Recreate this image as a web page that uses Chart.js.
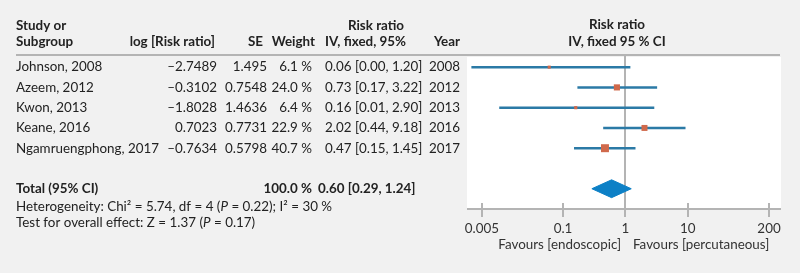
<!DOCTYPE html>
<html>
<head>
<meta charset="utf-8">
<script src="https://cdn.jsdelivr.net/npm/chart.js@4.4.1/dist/chart.umd.min.js"></script>
<style>
  html, body { margin: 0; padding: 0; background: #f1f1f1; }
  #contenedor { position: relative; width: 800px; height: 273px; }
</style>
</head>
<body>
<div id="contenedor"><canvas id="graficoForest"></canvas></div>
<script>
const estudios = ['Johnson, 2008', 'Azeem, 2012', 'Kwon, 2013', 'Keane, 2016', 'Ngamruengphong, 2017'];
const logRiesgo = ['–2.7489', '–0.3102', '–1.8028', '0.7023', '–0.7634'];
const errorEstandar = ['1.495', '0.7548', '1.4636', '0.7731', '0.5798'];
const pesos = [6.1, 24.0, 6.4, 22.9, 40.7];
const razonRiesgo = [0.06, 0.73, 0.16, 2.02, 0.47];
const limiteInf = [0.0034, 0.17, 0.0095, 0.44, 0.15];
const limiteSup = [1.20, 3.22, 2.90, 9.18, 1.45];
const textoRR = ['0.06 [0.00, 1.20]', '0.73 [0.17, 3.22]', '0.16 [0.01, 2.90]', '2.02 [0.44, 9.18]', '0.47 [0.15, 1.45]'];
const anios = ['2008', '2012', '2013', '2016', '2017'];

// Resultado combinado
const totalRR = 0.60;
const totalInf = 0.29;
const totalSup = 1.24;

// Marcas del eje x
const ticksValores = [0.005, 0.1, 1, 10, 200];
const ticksEtiquetas = ['0.005', '0.1', '1', '10', '200'];

const FUENTE = 'Lato';
const TAM = 13.4;
const GRIS = '#b4b4b4';
const TEXTO = '#222222';
const FILA_TOTAL = 6;

// Dibuja texto con partes en cursiva
function dibujarTramos(ctx, tramos, x, y) {
    let posX = x;
    tramos.forEach(([texto, cursiva]) => {
        ctx.font = `${cursiva ? 'italic ' : ''}${TAM}px ${FUENTE}`;
        ctx.fillText(texto, posX, y);
        posX += ctx.measureText(texto).width;
    });
}

const pluginForest = {
    id: 'forest',
    beforeDraw(chart) {
        const { ctx, chartArea: a } = chart;
        ctx.save();
        ctx.fillStyle = '#ffffff';
        ctx.fillRect(a.left - 1, a.top, a.right - a.left + 2, a.bottom - a.top);
        ctx.restore();
    },
    beforeDatasetsDraw(chart) {
        const { ctx, chartArea: a } = chart;
        const x = Math.round(chart.scales.x.getPixelForValue(1));
        ctx.save();
        ctx.strokeStyle = GRIS;
        ctx.lineWidth = 2;
        ctx.beginPath();
        ctx.moveTo(x, 55);
        ctx.lineTo(x, a.bottom);
        ctx.stroke();
        ctx.restore();
    },
    afterDraw(chart) {
        const { ctx, chartArea: a } = chart;
        const escalaX = chart.scales.x;
        const escalaY = chart.scales.y;
        ctx.save();

        // Línea bajo el encabezado
        ctx.strokeStyle = GRIS;
        ctx.lineWidth = 2;
        ctx.beginPath();
        ctx.moveTo(16, 55);
        ctx.lineTo(a.right, 55);
        ctx.stroke();

        // Marcas del eje que cruzan la línea
        ticksValores.forEach(v => {
            const x = Math.round(escalaX.getPixelForValue(v));
            ctx.beginPath();
            ctx.moveTo(x, a.bottom - 6);
            ctx.lineTo(x, a.bottom + 8);
            ctx.stroke();
        });

        ctx.fillStyle = TEXTO;
        ctx.textBaseline = 'middle';

        // Encabezados
        ctx.font = `bold ${TAM}px ${FUENTE}`;
        ctx.textAlign = 'left';
        ctx.fillText('Study or', 16, 26);
        ctx.fillText('Subgroup', 16, 42);
        ctx.fillText('IV, fixed, 95%', 325, 42);
        ctx.textAlign = 'right';
        ctx.fillText('log [Risk ratio]', 215, 42);
        ctx.fillText('SE', 263, 42);
        ctx.fillText('Weight', 315, 42);
        ctx.fillText('Year', 460, 42);
        ctx.textAlign = 'center';
        ctx.fillText('Risk ratio', 376, 26);
        ctx.fillText('Risk ratio', 617, 25);
        ctx.fillText('IV, fixed 95 % CI', 617, 42);

        // Filas de estudios
        ctx.font = `${TAM}px ${FUENTE}`;
        estudios.forEach((nombre, i) => {
            const y = escalaY.getPixelForValue(i);
            ctx.textAlign = 'left';
            ctx.fillText(nombre, 16, y);
            ctx.fillText(textoRR[i], 325, y);
            ctx.textAlign = 'right';
            ctx.fillText(logRiesgo[i], 217, y);
            ctx.fillText(errorEstandar[i], 267, y);
            ctx.fillText(pesos[i].toFixed(1) + ' %', 312, y);
            ctx.fillText(anios[i], 460, y);
        });

        // Fila total
        const yTotal = escalaY.getPixelForValue(FILA_TOTAL);
        ctx.font = `bold ${TAM}px ${FUENTE}`;
        ctx.textAlign = 'left';
        ctx.fillText('Total (95% CI)', 16, yTotal);
        ctx.fillText(`${totalRR.toFixed(2)} [${totalInf.toFixed(2)}, ${totalSup.toFixed(2)}]`, 318, yTotal);
        ctx.textAlign = 'right';
        ctx.fillText('100.0 %', 312, yTotal);

        ctx.textAlign = 'left';
        dibujarTramos(ctx, [['Heterogeneity: Chi² = 5.74, df = 4 (', false], ['P', true], [' = 0.22); I² = 30 %', false]], 16, 207);
        dibujarTramos(ctx, [['Test for overall effect: Z = 1.37 (', false], ['P', true], [' = 0.17)', false]], 16, 223);

        // Leyendas bajo el eje
        ctx.fillStyle = '#333333';
        ctx.font = `${TAM}px ${FUENTE}`;
        ctx.textAlign = 'right';
        ctx.fillText('Favours [endoscopic]', 621, 245);
        ctx.textAlign = 'left';
        ctx.fillText('Favours [percutaneous]', 633, 245);
        ctx.restore();
    }
};

// Líneas de intervalo de confianza
const lineasIC = estudios.map((nombre, i) => ({
    label: nombre,
    data: [{ x: limiteInf[i], y: i }, { x: limiteSup[i], y: i }],
    showLine: true,
    borderColor: '#2b7aa6',
    borderWidth: 2.5,
    pointRadius: 0,
    order: 2
}));

// Cuadrados con tamaño según el peso
const cuadrados = {
    label: 'Risk ratio',
    data: razonRiesgo.map((v, i) => ({ x: v, y: i })),
    pointStyle: 'rect',
    pointRadius: pesos.map(w => 1.25 * Math.sqrt(w) / (2 * Math.SQRT1_2)),
    backgroundColor: '#d0694b',
    borderWidth: 0,
    order: 0
};

// Diamante del total
const diamante = {
    label: 'Total',
    data: [
        { x: totalInf, y: FILA_TOTAL },
        { x: totalRR, y: FILA_TOTAL - 0.44 },
        { x: totalSup, y: FILA_TOTAL },
        { x: totalRR, y: FILA_TOTAL + 0.44 },
        { x: totalInf, y: FILA_TOTAL }
    ],
    showLine: true,
    fill: 'shape',
    tension: 0,
    borderColor: '#0d80c6',
    backgroundColor: '#0d80c6',
    borderWidth: 1,
    pointRadius: 0,
    order: 1
};

const ctx = document.getElementById('graficoForest').getContext('2d');
new Chart(ctx, {
    type: 'scatter',
    data: { datasets: [...lineasIC, cuadrados, diamante] },
    options: {
        responsive: true,
        maintainAspectRatio: false,
        animation: false,
        devicePixelRatio: 1,
        layout: { padding: { left: 468, right: 20, top: 57, bottom: 0 } },
        plugins: {
            legend: { display: false },
            tooltip: { enabled: false }
        },
        scales: {
            x: {
                type: 'logarithmic',
                min: 0.003,
                max: 300,
                afterFit: s => { s.height = 64; },
                afterBuildTicks: s => { s.ticks = ticksValores.map(v => ({ value: v })); },
                grid: { display: true, drawOnChartArea: false, drawTicks: false },
                border: { display: true, color: GRIS, width: 2 },
                ticks: {
                    autoSkip: false,
                    maxRotation: 0,
                    padding: 12,
                    color: '#333333',
                    font: { family: FUENTE, size: TAM },
                    callback: v => {
                        const i = ticksValores.indexOf(v);
                        return i >= 0 ? ticksEtiquetas[i] : '';
                    }
                }
            },
            y: {
                type: 'linear',
                min: -0.5,
                max: 7,
                reverse: true,
                display: false
            }
        }
    },
    plugins: [pluginForest]
});
</script>
</body>
</html>
